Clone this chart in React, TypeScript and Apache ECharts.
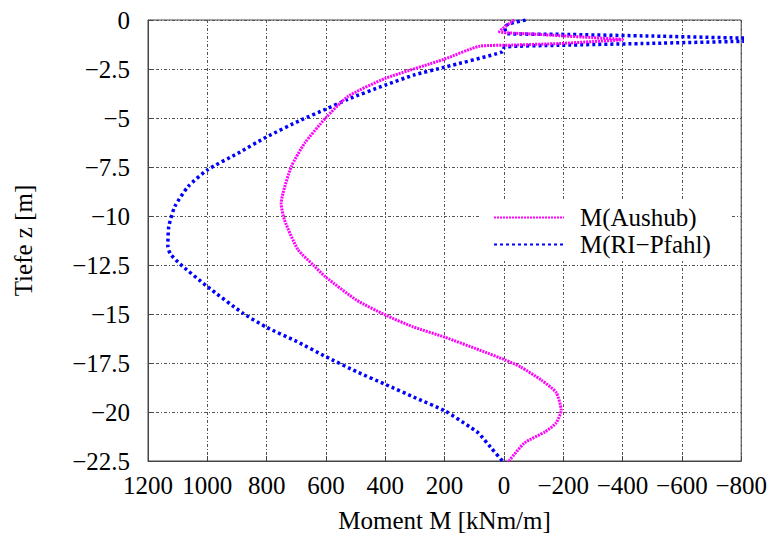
import React, { useEffect, useRef } from "react";
import * as echarts from "echarts";

// Moment M [kNm/m] and depth z [m] for "M(Aushub)"
const aushubM = [
  -35, 15, -20, -100, -187, -300, -400, -300, -187, -29, 82, 201, 400, 527, 602, 672, 717, 745,
  751, 740, 695, 643, 602, 497, 400, 307, 198, 82, -5, -56, -126, -176, -193, -176, -140, -69,
  -19, -10,
];
const aushubZ = [
  0, -0.6, -0.66, -0.72, -0.8, -0.9, -1.0, -1.1, -1.2, -1.28, -1.34, -2.0, -2.98, -3.91, -5.02,
  -6.29, -7.48, -8.84, -9.35, -10.2, -11.7, -12.5, -13.1, -14.29, -15.05, -15.65, -16.19,
  -16.84, -17.35, -17.7, -18.37, -19.0, -19.9, -20.56, -21.0, -21.58, -22.45, -22.5,
];

// Moment M [kNm/m] and depth z [m] for "M(RI−Pfahl)"
const pfahlM = [
  -73, -19, -2, -12, -187, -500, -800, -1060, -800, -500, -187, -2, 5, 201, 302, 400, 527, 602,
  684, 802, 897, 1000, 1065, 1110, 1130, 1133, 1124, 1092, 1000, 879, 800, 699, 600, 497, 400,
  295, 198, 116, 86, 45, 5,
];
const pfahlZ = [
  0, -0.19, -0.36, -0.7, -0.73, -0.82, -0.92, -1.0, -1.09, -1.19, -1.29, -1.38, -1.63, -2.41,
  -2.8, -3.32, -4.05, -4.56, -5.1, -5.98, -6.8, -7.65, -8.5, -9.53, -10.55, -11.57, -11.95,
  -12.45, -13.6, -14.97, -15.68, -16.4, -17.18, -17.94, -18.59, -19.3, -19.95, -20.75, -21.07,
  -21.8, -22.5,
];

const seriesNames = ["M(Aushub)", "M(RI\u2212Pfahl)"];
const xTitle = "Moment M [kNm/m]";
const yTitle = "Tiefe z [m]";

const zip = (m: number[], z: number[]) => m.map((v, i) => [v, z[i]]);
const minus = (v: number) => String(v).replace("-", "\u2212");

const FONT = "'Liberation Serif', 'Times New Roman', 'DejaVu Serif', serif";

export default function App() {
  const ref = useRef<HTMLDivElement>(null);
  useEffect(() => {
    if (!ref.current) return;
    const chart = echarts.init(ref.current, undefined, { renderer: "svg" });
    const gridLine = { show: true, lineStyle: { color: "#555", width: 1, type: [3, 2, 1, 2] as any } };
    chart.setOption({
      animation: false,
      backgroundColor: "#fff",
      textStyle: { fontFamily: FONT },
      grid: {
        left: 148,
        top: 20,
        right: 28,
        bottom: 78,
        show: true,
        borderColor: "#444",
        borderWidth: 1,
        backgroundColor: "transparent",
      },
      xAxis: {
        type: "value",
        inverse: true,
        min: -800,
        max: 1200,
        interval: 200,
        name: xTitle,
        nameLocation: "middle",
        nameGap: 47,
        nameTextStyle: { fontFamily: FONT, fontSize: 25, color: "#000" },
        axisLine: { show: true, onZero: false, lineStyle: { color: "#444" } },
        axisTick: { show: true, inside: true, length: 5, lineStyle: { color: "#444" } },
        axisLabel: {
          fontFamily: FONT,
          fontSize: 25,
          color: "#000",
          margin: 12,
          formatter: (v: number) => minus(v),
        },
        splitLine: gridLine,
      },
      yAxis: {
        type: "value",
        min: -22.5,
        max: 0,
        interval: 2.5,
        name: yTitle,
        nameLocation: "middle",
        nameGap: 112,
        nameRotate: 90,
        nameTextStyle: { fontFamily: FONT, fontSize: 25, color: "#000" },
        axisLine: { show: true, onZero: false, lineStyle: { color: "#444" } },
        axisTick: { show: true, inside: true, length: 5, lineStyle: { color: "#444" } },
        axisLabel: {
          fontFamily: FONT,
          fontSize: 25,
          color: "#000",
          margin: 18,
          formatter: (v: number) => minus(v),
        },
        splitLine: gridLine,
      },
      legend: {
        show: true,
        orient: "vertical",
        left: 480,
        top: 201,
        backgroundColor: "#fff",
        padding: [4, 20, 4, 13],
        itemWidth: 70,
        itemHeight: 14,
        itemGap: 2,
        itemStyle: { color: "transparent", borderWidth: 0, opacity: 0 },
        textStyle: { fontFamily: FONT, fontSize: 25, color: "#000", padding: [0, 0, 0, 11] },
        data: seriesNames,
      },
      series: [
        {
          name: seriesNames[0],
          type: "line",
          data: zip(aushubM, aushubZ),
          showSymbol: false,
          symbol: "none",
          smooth: 0.2,
          clip: true,
          lineStyle: { color: "#ff00ff", width: 3, type: [2, 1] },
          itemStyle: { color: "#ff00ff" },
          z: 3,
        },
        {
          name: seriesNames[1],
          type: "line",
          data: zip(pfahlM, pfahlZ),
          showSymbol: false,
          symbol: "none",
          smooth: 0.2,
          clip: true,
          lineStyle: { color: "#0000ff", width: 3.5, type: [3, 3] },
          itemStyle: { color: "#0000ff" },
          z: 2,
        },
      ],
    });
    return () => chart.dispose();
  }, []);
  return (
    <div
      ref={ref}
      style={{ position: "fixed", left: 0, top: 0, width: 770, height: 539, background: "#fff" }}
    />
  );
}
